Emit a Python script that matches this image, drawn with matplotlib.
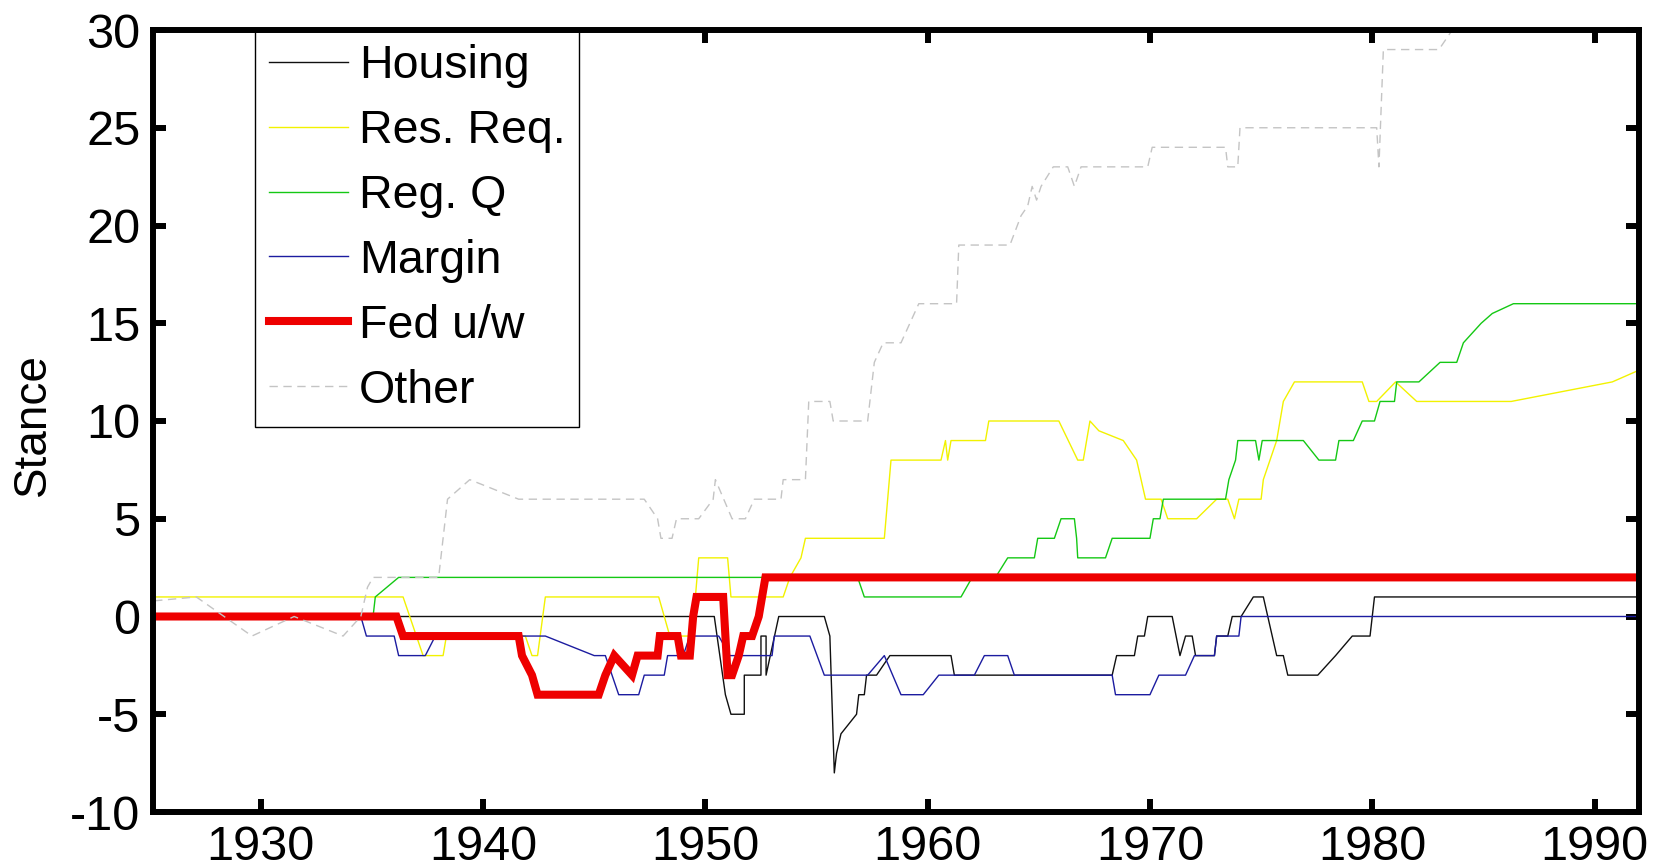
import matplotlib
matplotlib.use("Agg")
import matplotlib.pyplot as plt

plt.rcParams["font.family"] = ["Liberation Sans", "DejaVu Sans"]
plt.rcParams["axes.unicode_minus"] = False

# ---- data: (year, stance) vertices for each policy instrument ----
housing_x = [1925.2, 1950.4, 1950.9, 1951.15, 1951.75, 1951.75, 1952.5, 1952.5, 1952.73, 1952.73,
             1953.3, 1955.35, 1955.6, 1955.8, 1955.9, 1956.1, 1956.8, 1956.9, 1957.15, 1957.25,
             1957.7, 1958.3, 1961.05, 1961.2, 1968.3, 1968.5, 1969.3, 1969.45, 1969.75, 1969.9,
             1971.0, 1971.35, 1971.6, 1971.9, 1972.05, 1972.9, 1973.0, 1973.5, 1973.7, 1974.1,
             1974.65, 1975.1, 1975.7, 1976.0, 1976.2, 1977.55, 1978.35, 1979.1, 1979.9, 1980.1, 1992.0]
housing_y = [0, 0, -4, -5, -5, -3, -3, -1, -1, -3,
             0, 0, -1, -8, -7, -6, -5, -4, -4, -3,
             -3, -2, -2, -3, -3, -2, -2, -1, -1, 0,
             0, -2, -1, -1, -2, -2, -1, -1, 0, 0,
             1, 1, -2, -2, -3, -3, -2, -1, -1, 1, 1]

resreq_x = [1925.2, 1936.4, 1937.3, 1938.2, 1938.35, 1941.9, 1942.2, 1942.45, 1942.8, 1947.9,
            1948.4, 1949.4, 1949.7, 1951.0, 1951.15, 1953.5, 1953.8, 1954.3, 1954.5, 1958.05,
            1958.35, 1960.6, 1960.8, 1960.9, 1961.05, 1962.6, 1962.75, 1965.9, 1966.75, 1967.0,
            1967.3, 1967.7, 1968.8, 1969.4, 1969.8, 1970.5, 1970.8, 1972.1, 1973.0, 1973.5,
            1973.8, 1974.0, 1975.0, 1975.1, 1975.7, 1976.0, 1976.5, 1979.55, 1979.85, 1980.2,
            1981.05, 1982.0, 1986.25, 1990.8, 1992.0]
resreq_y = [1, 1, -2, -2, -1, -1, -2, -2, 1, 1,
            -1, -1, 3, 3, 1, 1, 2, 3, 4, 4,
            8, 8, 9, 8, 9, 9, 10, 10, 8, 8,
            10, 9.5, 9, 8, 6, 6, 5, 5, 6, 6,
            5, 6, 6, 7, 9, 11, 12, 12, 11, 11,
            12, 11, 11, 12, 12.6]

regq_x = [1925.2, 1935.05, 1935.15, 1936.2, 1956.85, 1957.15, 1961.5, 1962.0, 1963.05, 1963.6,
          1964.8, 1964.95, 1965.7, 1966.0, 1966.6, 1966.7, 1966.75, 1968.0, 1968.3, 1970.0,
          1970.15, 1970.45, 1970.6, 1973.4, 1973.55, 1973.85, 1973.95, 1974.75, 1974.9, 1975.05,
          1976.9, 1977.6, 1978.35, 1978.5, 1979.15, 1979.55, 1980.1, 1980.35, 1981.0, 1981.1,
          1982.1, 1983.05, 1983.8, 1984.1, 1984.9, 1985.4, 1986.35, 1992.0]
regq_y = [0, 0, 1, 2, 2, 1, 1, 2, 2, 3,
          3, 4, 4, 5, 5, 4, 3, 3, 4, 4,
          5, 5, 6, 6, 7, 8, 9, 9, 8, 9,
          9, 8, 8, 9, 9, 10, 10, 11, 11, 12,
          12, 13, 13, 14, 15, 15.5, 16, 16]

margin_x = [1925.2, 1934.5, 1934.75, 1936.0, 1936.2, 1937.4, 1937.85, 1942.8, 1945.0, 1945.5,
            1946.1, 1947.0, 1947.25, 1948.15, 1948.3, 1949.0, 1949.3, 1950.6, 1951.1, 1953.0,
            1953.1, 1954.7, 1955.35, 1957.3, 1958.05, 1958.8, 1959.8, 1960.5, 1962.1, 1962.55,
            1963.6, 1963.9, 1968.3, 1968.45, 1970.0, 1970.4, 1971.6, 1972.0, 1972.9, 1973.0,
            1974.0, 1974.1, 1992.0]
margin_y = [0, 0, -1, -1, -2, -2, -1, -1, -2, -2,
            -4, -4, -3, -3, -2, -2, -1, -1, -2, -2,
            -1, -1, -3, -3, -2, -4, -4, -3, -3, -2,
            -2, -3, -3, -4, -4, -3, -3, -2, -2, -1,
            -1, 0, 0]

fed_x = [1925.2, 1936.1, 1936.4, 1941.6, 1941.75, 1942.2, 1942.45, 1945.2, 1945.5, 1945.9,
         1946.7, 1946.95, 1947.85, 1947.95, 1948.75, 1948.9, 1949.3, 1949.45, 1949.6, 1950.8,
         1951.0, 1951.2, 1951.5, 1951.7, 1952.1, 1952.4, 1952.7, 1992.0]
fed_y = [0, 0, -1, -1, -2, -3, -4, -4, -3, -2,
         -3, -2, -2, -1, -1, -2, -2, 0, 1, 1,
         -3, -3, -2, -1, -1, 0, 2, 2]

other_x = [1925.2, 1927.1, 1929.6, 1931.5, 1933.7, 1934.5, 1934.8, 1935.05, 1938.0, 1938.2,
           1938.4, 1939.4, 1941.6, 1947.25, 1947.85, 1948.0, 1948.5, 1948.7, 1949.7, 1950.35,
           1950.45, 1951.2, 1951.8, 1952.2, 1953.4, 1953.5, 1954.5, 1954.65, 1955.6, 1955.75,
           1957.3, 1957.6, 1958.0, 1958.8, 1959.6, 1961.3, 1961.4, 1963.7, 1964.2, 1964.5,
           1964.7, 1964.9, 1965.1, 1965.65, 1966.3, 1966.6, 1966.9, 1969.9, 1970.1, 1973.4,
           1973.5, 1973.95, 1974.05, 1980.2, 1980.3, 1980.5, 1983.0, 1983.6, 1984.2]
other_y = [0.8, 1, -1, 0, -1, 0, 1.5, 2, 2, 4,
           6, 7, 6, 6, 5, 4, 4, 5, 5, 6,
           7, 5, 5, 6, 6, 7, 7, 11, 11, 10,
           10, 13, 14, 14, 16, 16, 19, 19, 20.5, 21,
           22, 21.3, 22, 23, 23, 22, 23, 23, 24, 24,
           23, 23, 25, 25, 23, 29, 29, 30, 31]

series_labels = ["Housing", "Res. Req.", "Reg. Q", "Margin", "Fed u/w", "Other"]
x_ticks = [1930, 1940, 1950, 1960, 1970, 1980, 1990]
y_ticks = [-10, -5, 0, 5, 10, 15, 20, 25, 30]

# ---- figure ----
fig = plt.figure(figsize=(16.58, 8.67), dpi=100)
ax = fig.add_axes([153 / 1658, 1 - 812 / 867, (1639 - 153) / 1658, (812 - 30) / 867])

thin = 1.0
ax.plot(housing_x, housing_y, color="#101010", lw=thin, label=series_labels[0], zorder=3)
ax.plot(resreq_x, resreq_y, color="#f2f200", lw=thin, label=series_labels[1], zorder=3)
ax.plot(regq_x, regq_y, color="#14c814", lw=thin, label=series_labels[2], zorder=3)
ax.plot(margin_x, margin_y, color="#1c1ca0", lw=thin, label=series_labels[3], zorder=3)
ax.plot(fed_x, fed_y, color="#ee0000", lw=5.8, label=series_labels[4], zorder=3,
        solid_joinstyle="miter")
ax.plot(other_x, other_y, color="#c4c4c4", lw=thin, ls=(0, (6, 4)), label=series_labels[5], zorder=3)

ax.set_xlim(1925.15, 1992.0)
ax.set_ylim(-10, 30)
ax.set_xticks(x_ticks)
ax.set_yticks(y_ticks)
ax.set_xticklabels([str(v) for v in x_ticks])
ax.set_yticklabels([str(v) for v in y_ticks])

for s in ax.spines.values():
    s.set_linewidth(4.3)
    s.set_color("black")
    s.set_zorder(6)
ax.tick_params(axis="both", which="major", direction="in", length=9.5, width=4.3,
               labelsize=35, top=True, right=True, colors="black")
ax.tick_params(axis="x", pad=9)
ax.tick_params(axis="y", pad=9)

fig.text(33 / 1658, 1 - 425 / 867, "Stance", rotation=90, fontsize=33,
         ha="center", va="center")

leg = ax.legend(loc="upper left", bbox_to_anchor=(0.0686, 1.0), borderaxespad=0,
                prop={"size": 33.5}, frameon=True, fancybox=False, edgecolor="black",
                framealpha=1.0, handlelength=1.7, handletextpad=0.23,
                labelspacing=0.45, borderpad=0.3)
leg.get_frame().set_linewidth(1.0)
leg.set_zorder(5)

fig.savefig("out.png", dpi=100)
